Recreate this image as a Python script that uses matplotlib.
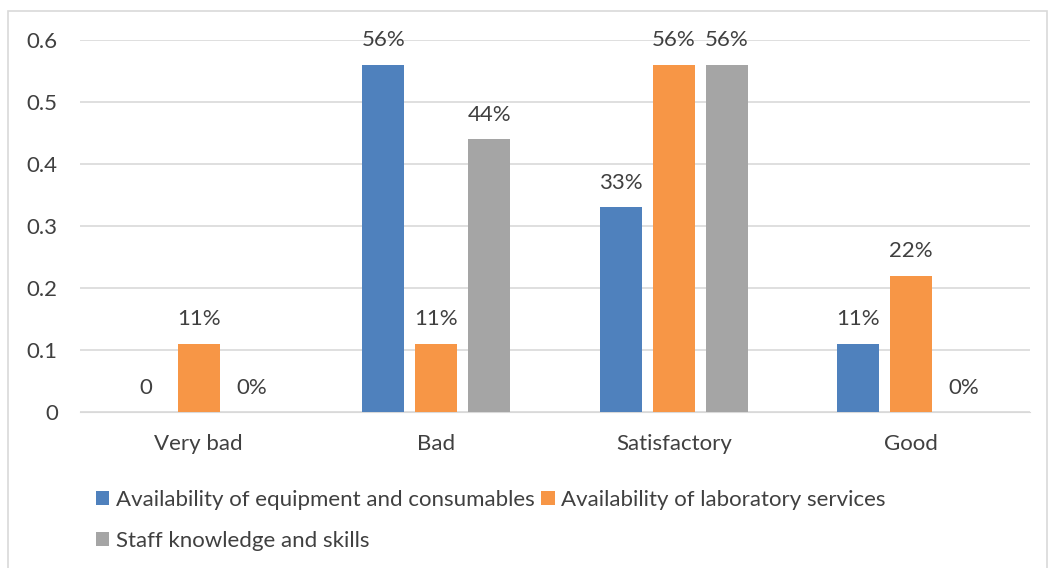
import matplotlib.pyplot as plt
import matplotlib.patches as mpatches
import numpy as np

categories = ["Very bad", "Bad", "Satisfactory", "Good"]
series_names = ["Availability of equipment and consumables",
                "Availability of laboratory services",
                "Staff knowledge and skills"]
equipment = [0, 0.56, 0.33, 0.11]
laboratory = [0.11, 0.11, 0.56, 0.22]
staff = [0, 0.44, 0.56, 0]
equipment_labels = ["0", "56%", "33%", "11%"]
laboratory_labels = ["11%", "11%", "56%", "22%"]
staff_labels = ["0%", "44%", "56%", "0%"]
yticks = [0, 0.1, 0.2, 0.3, 0.4, 0.5, 0.6]

colors = ["#4F81BD", "#F79646", "#A5A5A5"]
textcolor = "#404040"
fs = 16

plt.rcParams['font.family'] = ['Lato', 'DejaVu Sans']

fig = plt.figure(figsize=(10.5, 5.68), dpi=100)
# chart frame like Excel
fig.patches.append(mpatches.Rectangle((8 / 1050, -0.1), 1039 / 1050, 1 - 11 / 568 + 0.1,
                                      transform=fig.transFigure, fill=False,
                                      edgecolor="#D9D9D9", linewidth=1.2))
ax = fig.add_axes([80 / 1050, 1 - 412 / 568, 950 / 1050, 372 / 568])

x = np.arange(len(categories))
width = 0.177
pitch = 0.223
handles = []
all_vals = [equipment, laboratory, staff]
all_labels = [equipment_labels, laboratory_labels, staff_labels]
for i in range(3):
    pos = x + (i - 1) * pitch
    bars = ax.bar(pos, all_vals[i], width, color=colors[i], label=series_names[i], zorder=3)
    handles.append(bars)
    for p, v, lab in zip(pos, all_vals[i], all_labels[i]):
        ax.annotate(lab, (p, v), xytext=(0, 17.5), textcoords="offset points",
                    ha="center", va="center", fontsize=fs, color=textcolor)

ax.set_xlim(-0.5, 3.5)
ax.set_ylim(0, 0.6)
ax.set_yticks(yticks)
ax.set_yticklabels([str(t) for t in yticks])
ax.set_xticks(x)
ax.set_xticklabels(categories)
ax.tick_params(length=0, labelsize=fs, labelcolor=textcolor)
ax.tick_params(axis='y', pad=16)
ax.tick_params(axis='x', pad=15.5)
for s in ["top", "right", "left"]:
    ax.spines[s].set_visible(False)
ax.spines["bottom"].set_color("#D9D9D9")
ax.grid(axis='y', color="#D9D9D9", linewidth=1.2, zorder=0)

leg = fig.legend([handles[0], handles[2], handles[1]],
                 [series_names[0], series_names[2], series_names[1]],
                 ncol=2, loc="upper left", bbox_to_anchor=(87 / 1050, 1 - 481 / 568),
                 frameon=False, fontsize=fs, handlelength=0.6, handleheight=0.6,
                 handletextpad=0.3, columnspacing=0.3, labelspacing=0.95, borderaxespad=0)
for t in leg.get_texts():
    t.set_color(textcolor)

fig.savefig("out.png", dpi=100)
